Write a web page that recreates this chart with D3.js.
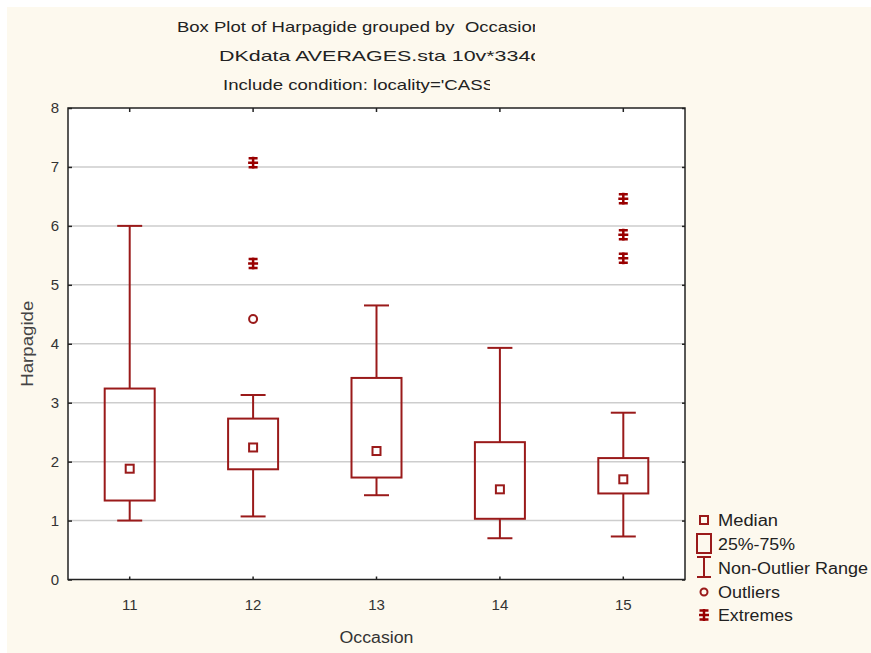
<!DOCTYPE html>
<html>
<head>
<meta charset="utf-8">
<script src="https://cdn.jsdelivr.net/npm/d3@7"></script>
<style>
  body { margin: 0; background: #fff; }
  svg { display: block; font-family: "Liberation Sans", Arial, sans-serif; }
</style>
</head>
<body>
<div id="chart"></div>
<script>
var occasions = ["11", "12", "13", "14", "15"];
var q1 =        [1.34, 1.87, 1.73, 1.03, 1.46];
var q3 =        [3.24, 2.73, 3.42, 2.33, 2.06];
var medians =   [1.88, 2.24, 2.18, 1.53, 1.70];
var whiskLow =  [1.00, 1.07, 1.43, 0.70, 0.73];
var whiskHigh = [6.00, 3.13, 4.65, 3.93, 2.83];
var outliers = [["12", 4.42]];
var extremes = [["12", 7.07], ["12", 5.36], ["15", 6.46], ["15", 5.85], ["15", 5.45]];
var yTicks = [0, 1, 2, 3, 4, 5, 6, 7, 8];
var titleLines = ["Box Plot of Harpagide grouped by\u00a0\u00a0Occasion", "DKdata AVERAGES.sta 10v*334c", "Include condition: locality='CASS"];
var legendLabels = ["Median", "25%-75%", "Non-Outlier Range", "Outliers", "Extremes"];

var width = 871, height = 653;
var margin = ({top: 108, right: 186, bottom: 72, left: 68});
var red = "#9a1a1a";

var data = occasions.map(function(o, i) {
    return {occ: o, q1: q1[i], q3: q3[i], med: medians[i], lo: whiskLow[i], hi: whiskHigh[i]};
});

var svg = d3.select("#chart").append("svg")
    .attr("width", width)
    .attr("height", height);

svg.append("rect")
    .attr("x", 7).attr("y", 7)
    .attr("width", width - 7).attr("height", height - 7)
    .attr("fill", "#fdf9ee");

var x = d3.scaleBand()
    .domain(occasions)
    .range([margin.left, width - margin.right])
    .paddingInner(0).paddingOuter(0);

var y = d3.scaleLinear()
    .domain([0, 8])
    .range([height - margin.bottom - 1.5, margin.top]);

var cx = d => x(d) + x.bandwidth() / 2;
var boxW = 50, capW = 25, medW = 8;

// plot area
svg.append("rect")
    .attr("x", margin.left).attr("y", margin.top)
    .attr("width", width - margin.right - margin.left)
    .attr("height", y(0) - margin.top)
    .attr("fill", "#fff");

// gridlines
svg.append("g")
    .selectAll("line")
    .data(yTicks.filter(t => t > 0 && t < 8))
    .enter().append("line")
    .attr("x1", margin.left).attr("x2", width - margin.right)
    .attr("y1", d => y(d)).attr("y2", d => y(d))
    .attr("stroke", "#cdcdcd").attr("stroke-width", 1.5);

// axes (ticks only, all inward)
var yAxis = g => g
    .attr("transform", `translate(${margin.left}, 0)`)
    .call(d3.axisRight(y).tickValues(yTicks).tickSize(4).tickFormat(""))
    .call(g => g.select(".domain").remove());
var yAxisR = g => g
    .attr("transform", `translate(${width - margin.right}, 0)`)
    .call(d3.axisLeft(y).tickValues(yTicks).tickSize(3).tickFormat(""))
    .call(g => g.select(".domain").remove());
var xAxis = g => g
    .attr("transform", `translate(0, ${y(0)})`)
    .call(d3.axisTop(x).tickSize(3).tickFormat(""))
    .call(g => g.select(".domain").remove());
var xAxisT = g => g
    .attr("transform", `translate(0, ${margin.top})`)
    .call(d3.axisBottom(x).tickSize(4).tickFormat(""))
    .call(g => g.select(".domain").remove());

[yAxis, yAxisR, xAxis, xAxisT].forEach(function(a) {
    svg.append("g").call(a).selectAll("line").attr("stroke", "#222").attr("stroke-width", 1.5);
});

svg.append("g")
    .selectAll("text")
    .data(yTicks)
    .enter().append("text")
    .attr("x", 59).attr("y", d => y(d) + 5)
    .attr("text-anchor", "end")
    .attr("font-size", 15).attr("fill", "#333")
    .text(d => d);

svg.append("g")
    .selectAll("text")
    .data(occasions)
    .enter().append("text")
    .attr("x", d => cx(d)).attr("y", y(0) + 30)
    .attr("text-anchor", "middle")
    .attr("font-size", 15).attr("fill", "#333")
    .text(d => d);

// frame
svg.append("rect")
    .attr("x", margin.left).attr("y", margin.top)
    .attr("width", width - margin.right - margin.left)
    .attr("height", y(0) - margin.top)
    .attr("fill", "none").attr("stroke", "#222").attr("stroke-width", 1.5);

// boxes
var boxes = svg.append("g")
    .attr("stroke", red).attr("stroke-width", 2).attr("fill", "none")
    .selectAll("g").data(data).enter().append("g");

boxes.append("line")
    .attr("x1", d => cx(d.occ)).attr("x2", d => cx(d.occ))
    .attr("y1", d => y(d.hi)).attr("y2", d => y(d.q3));
boxes.append("line")
    .attr("x1", d => cx(d.occ)).attr("x2", d => cx(d.occ))
    .attr("y1", d => y(d.q1)).attr("y2", d => y(d.lo));
boxes.append("line")
    .attr("x1", d => cx(d.occ) - capW / 2).attr("x2", d => cx(d.occ) + capW / 2)
    .attr("y1", d => y(d.hi)).attr("y2", d => y(d.hi));
boxes.append("line")
    .attr("x1", d => cx(d.occ) - capW / 2).attr("x2", d => cx(d.occ) + capW / 2)
    .attr("y1", d => y(d.lo)).attr("y2", d => y(d.lo));
boxes.append("rect")
    .attr("x", d => cx(d.occ) - boxW / 2)
    .attr("y", d => y(d.q3))
    .attr("width", boxW)
    .attr("height", d => y(d.q1) - y(d.q3));
boxes.append("rect")
    .attr("x", d => cx(d.occ) - medW / 2)
    .attr("y", d => y(d.med) - medW / 2)
    .attr("width", medW).attr("height", medW);

// outliers + extremes
function extremePath(px, py) {
    return `M${px - 4.5},${py - 4.5}H${px + 4.5}M${px - 5},${py}H${px + 5}M${px - 4.5},${py + 4.5}H${px + 4.5}M${px},${py - 6}V${py + 6}`;
}

svg.append("g").selectAll("circle")
    .data(outliers).enter().append("circle")
    .attr("cx", d => cx(d[0])).attr("cy", d => y(d[1]))
    .attr("r", 4).attr("fill", "none")
    .attr("stroke", red).attr("stroke-width", 2);

svg.append("g").selectAll("path")
    .data(extremes).enter().append("path")
    .attr("d", d => extremePath(cx(d[0]), y(d[1])))
    .attr("stroke", "#990000").attr("stroke-width", 2.5).attr("fill", "none");

// titles (the original cuts them off on the right)
var titleX = [177, 219, 223], titleLen = [365, 322, 272], clipW = [535, 535, 490];
titleLines.forEach(function(t, i) {
    svg.append("clipPath").attr("id", "clipT" + i)
        .append("rect").attr("x", 0).attr("y", 0).attr("width", clipW[i]).attr("height", height);
});
svg.append("g").selectAll("text")
    .data(titleLines).enter().append("text")
    .attr("x", (d, i) => titleX[i])
    .attr("y", (d, i) => 32 + i * 29)
    .attr("clip-path", (d, i) => `url(#clipT${i})`)
    .attr("textLength", (d, i) => titleLen[i])
    .attr("lengthAdjust", "spacingAndGlyphs")
    .attr("font-size", 15).attr("fill", "#222")
    .text(d => d);

// axis titles
svg.append("text")
    .attr("transform", `translate(33, ${(margin.top + y(0)) / 2}) rotate(-90)`)
    .attr("text-anchor", "middle")
    .attr("textLength", 86).attr("lengthAdjust", "spacingAndGlyphs")
    .attr("font-size", 16).attr("fill", "#444")
    .text("Harpagide");

svg.append("text")
    .attr("x", (margin.left + width - margin.right) / 2)
    .attr("y", 643)
    .attr("text-anchor", "middle")
    .attr("textLength", 74).attr("lengthAdjust", "spacingAndGlyphs")
    .attr("font-size", 16).attr("fill", "#333")
    .text("Occasion");

// legend
var lg = svg.append("g");
var lx = 704, ly = [520, 544, 568, 592, 615];
var legendLen = [60, 77, 150, 62, 75];
lg.append("rect").attr("x", lx - 4).attr("y", ly[0] - 4).attr("width", 8).attr("height", 8)
    .attr("fill", "none").attr("stroke", red).attr("stroke-width", 2);
lg.append("rect").attr("x", lx - 7).attr("y", ly[1] - 10).attr("width", 14).attr("height", 19)
    .attr("fill", "none").attr("stroke", red).attr("stroke-width", 2);
lg.append("path")
    .attr("d", `M${lx - 7},${ly[2] - 11}H${lx + 7}M${lx},${ly[2] - 11}V${ly[2] + 9}M${lx - 7},${ly[2] + 9}H${lx + 7}`)
    .attr("fill", "none").attr("stroke", red).attr("stroke-width", 2);
lg.append("circle").attr("cx", lx).attr("cy", ly[3]).attr("r", 3.5)
    .attr("fill", "none").attr("stroke", red).attr("stroke-width", 2);
lg.append("path").attr("d", extremePath(lx, ly[4]))
    .attr("stroke", "#990000").attr("stroke-width", 2.5).attr("fill", "none");
lg.selectAll("text")
    .data(legendLabels).enter().append("text")
    .attr("x", 718).attr("y", (d, i) => ly[i] + 6)
    .attr("textLength", (d, i) => legendLen[i])
    .attr("lengthAdjust", "spacingAndGlyphs")
    .attr("font-size", 16).attr("fill", "#222")
    .text(d => d);
</script>
</body>
</html>
